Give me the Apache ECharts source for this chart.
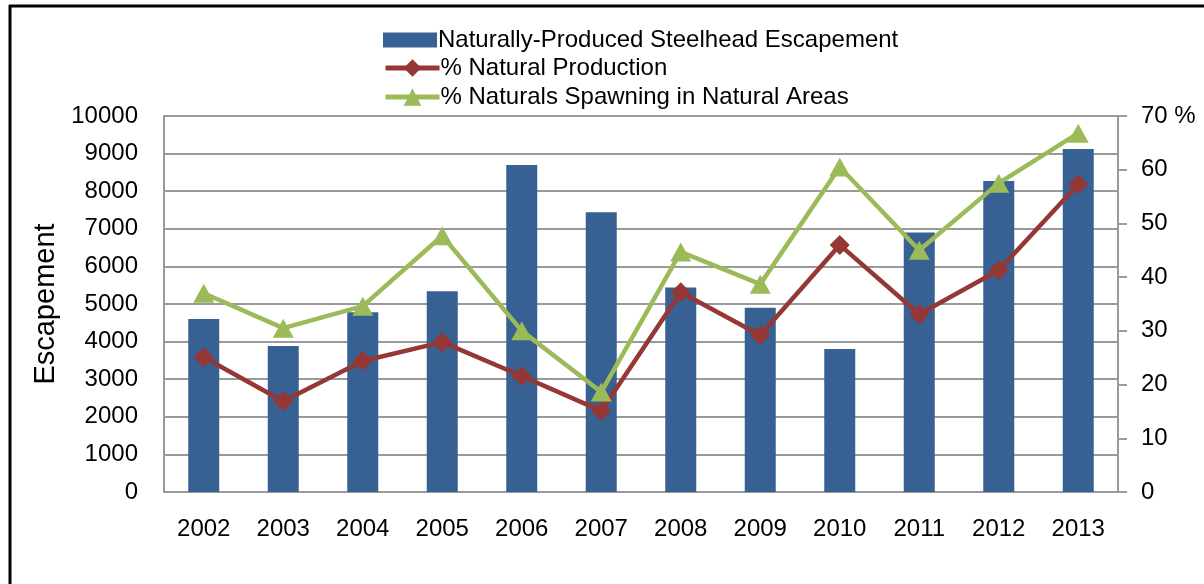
<!DOCTYPE html>
<html>
<head>
<meta charset="utf-8">
<script src="https://cdn.jsdelivr.net/npm/echarts@6/dist/echarts.min.js"></script>
<style>
  html, body { margin: 0; padding: 0; background: #fff; }
  #chart { width: 1204px; height: 584px; }
</style>
</head>
<body>
<div id="chart"></div>
<script>
// data
var years = ['2002', '2003', '2004', '2005', '2006', '2007', '2008', '2009', '2010', '2011', '2012', '2013'];
var escapement = [4600, 3880, 4780, 5340, 8700, 7440, 5440, 4900, 3800, 6900, 8270, 9120];
var pctNatural = [25.1, 16.9, 24.4, 27.9, 21.6, 15.1, 37.2, 29.2, 46.0, 33.1, 41.3, 57.3];
var pctSpawning = [37.0, 30.5, 34.6, 47.7, 30.0, 18.6, 44.7, 38.7, 60.5, 45.0, 57.5, 66.8];

(function(){
    var myChart = echarts.init(document.getElementById('chart'));
    var font = 'Liberation Sans';
    var gridColor = '#9a9a9a';
    var legendText = { fontFamily: font, fontSize: 24, color: '#000', padding: [0, 0, 0, -4] };
    var option = {
        animation: false,
        textStyle: { fontFamily: font },
        legend: [
            {
                orient: 'vertical',
                left: 378,
                top: 23,
                itemWidth: 54,
                itemHeight: 15,
                textStyle: legendText,
                data: [{ name: 'Naturally-Produced Steelhead Escapement', icon: 'rect' }]
            },
            {
                orient: 'vertical',
                left: 378,
                top: 51,
                itemWidth: 54,
                itemHeight: 22,
                itemGap: 5,
                textStyle: legendText,
                data: [
                    { name: '% Natural Production', lineStyle: { width: 5 } },
                    { name: '% Naturals Spawning in Natural Areas', lineStyle: { width: 5 } }
                ]
            }
        ],
        grid: {
            left: 164,
            right: 86,
            top: 116,
            bottom: 92
        },
        graphic: [
            { type: 'line', shape: { x1: 9, y1: 6, x2: 1204, y2: 6 }, style: { stroke: '#000', lineWidth: 3 } },
            { type: 'line', shape: { x1: 10, y1: 5, x2: 10, y2: 584 }, style: { stroke: '#000', lineWidth: 3 } }
        ],
        xAxis: {
            type: 'category',
            data: years,
            axisTick: { show: false },
            axisLine: { lineStyle: { color: gridColor, width: 2 } },
            axisLabel: { color: '#000', fontSize: 24, margin: 25, fontFamily: font }
        },
        yAxis: [
            {
                type: 'value',
                name: 'Escapement',
                nameLocation: 'middle',
                nameGap: 95,
                nameRotate: 90,
                nameTextStyle: { color: '#000', fontSize: 29, fontFamily: font },
                min: 0,
                max: 10000,
                interval: 1000,
                axisLine: { show: true, lineStyle: { color: gridColor, width: 2 } },
                axisTick: { show: false },
                axisLabel: {
                    color: '#000', fontSize: 24, margin: 26, fontFamily: font,
                    formatter: function(v){ return String(v); }
                },
                splitLine: { lineStyle: { color: gridColor, width: 2 } }
            },
            {
                type: 'value',
                min: 0,
                max: 70,
                interval: 10,
                axisLine: { show: true, lineStyle: { color: gridColor, width: 2 } },
                axisTick: { show: true, length: 9, lineStyle: { color: gridColor, width: 2 } },
                axisLabel: {
                    color: '#000', fontSize: 24, margin: 23, fontFamily: font,
                    formatter: function(v){ return v === 70 ? '70 %' : String(v); }
                },
                splitLine: { show: false }
            }
        ],
        series: [
            {
                name: 'Naturally-Produced Steelhead Escapement',
                type: 'bar',
                data: escapement,
                barWidth: 31,
                itemStyle: { color: '#386193' }
            },
            {
                name: '% Natural Production',
                type: 'line',
                yAxisIndex: 1,
                data: pctNatural,
                symbol: 'diamond',
                symbolSize: 20,
                lineStyle: { color: '#953735', width: 4.5 },
                itemStyle: { color: '#953735' }
            },
            {
                name: '% Naturals Spawning in Natural Areas',
                type: 'line',
                yAxisIndex: 1,
                data: pctSpawning,
                symbol: 'triangle',
                symbolSize: [21, 19],
                lineStyle: { color: '#9bbb59', width: 4.5 },
                itemStyle: { color: '#9bbb59' }
            }
        ]
    };
    myChart.setOption(option);
    window.addEventListener('resize', function(){
        myChart.resize();
    });
})();
</script>
</body>
</html>
